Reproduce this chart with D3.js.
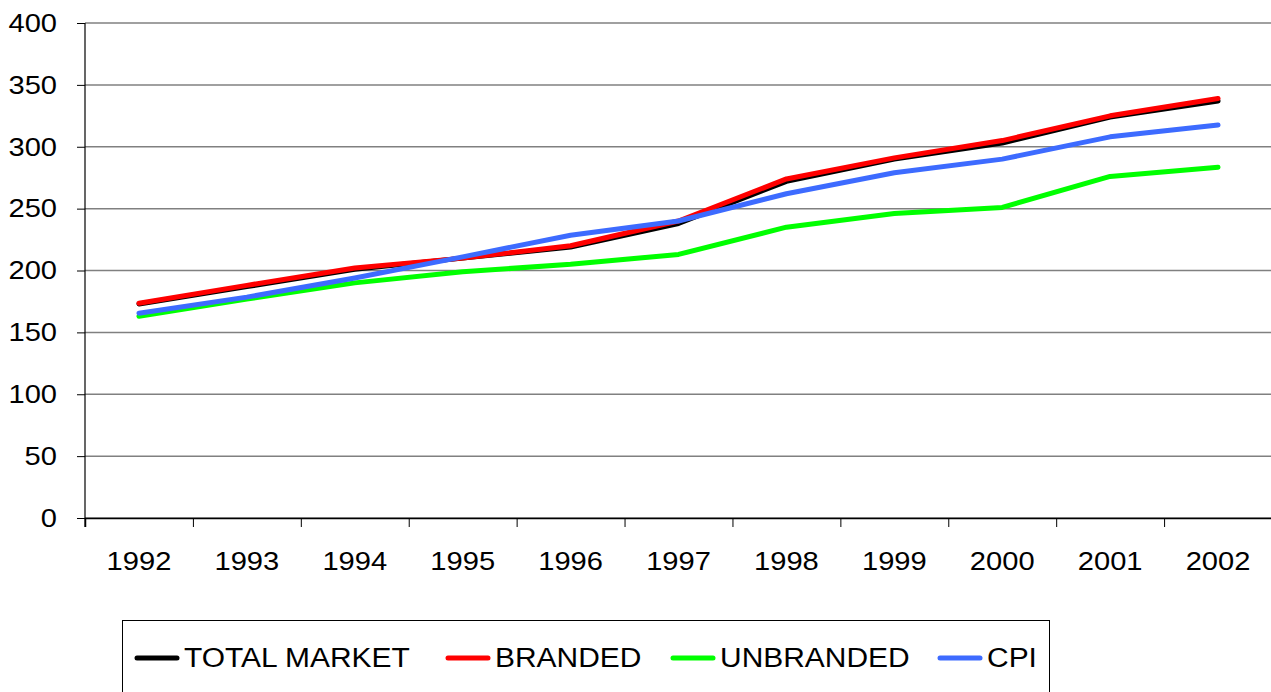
<!DOCTYPE html>
<html>
<head>
<meta charset="utf-8">
<script src="https://cdn.jsdelivr.net/npm/d3@7"></script>
<style>
  body { margin: 0; background: #fff; }
  text { font-family: "Liberation Sans", Arial, sans-serif; fill: #000; }
</style>
</head>
<body>
<div id="chart"></div>
<script>
var years = ["1992", "1993", "1994", "1995", "1996", "1997", "1998", "1999", "2000", "2001", "2002"];
var totalMarket = [173, 187, 201, 210, 219, 238, 272, 290, 303, 324, 337];
var branded = [173.5, 188, 202, 210, 220, 240, 274, 291, 305, 325, 339];
var unbranded = [163, 177, 190, 199, 205, 213, 235, 246, 251, 276, 283.5];
var cpi = [165.5, 178.5, 194, 211, 228.5, 240, 262, 279, 290, 308, 317.5];
var yTicks = [0, 50, 100, 150, 200, 250, 300, 350, 400];

var series = [
  {name: "TOTAL MARKET", values: totalMarket, color: "#000000"},
  {name: "BRANDED", values: branded, color: "#ff0000"},
  {name: "UNBRANDED", values: unbranded, color: "#00ff00"},
  {name: "CPI", values: cpi, color: "#3d6bff"}
];

var margin = {top: 23, right: 0, bottom: 174, left: 85},
    width = 1272 - margin.left,
    height = 518 - margin.top;

var stretch = 1.12; // the reference text is a bit wider than Arial

var svg = d3.select("#chart")
  .append("svg")
    .attr("width", 1271)
    .attr("height", 692)
  .append("g")
    .attr("transform", "translate(" + margin.left + "," + margin.top + ")");

var x = d3.scaleBand()
  .domain(years)
  .range([0, width])
  .padding(0);

var y = d3.scaleLinear()
  .domain([0, 400])
  .range([height, 0]);

// gridlines
svg.append("g")
  .selectAll("line")
  .data(yTicks)
  .enter()
  .append("line")
    .attr("x1", 0)
    .attr("x2", width)
    .attr("y1", function(d) { return y(d); })
    .attr("y2", function(d) { return y(d); })
    .attr("stroke", "#808080")
    .attr("stroke-width", 1.5);

// y axis
var yAxis = svg.append("g")
  .call(d3.axisLeft(y).tickValues(yTicks).tickSize(8).tickPadding(7));
yAxis.select(".domain").remove();
yAxis.selectAll("line").attr("stroke", "#000");
yAxis.selectAll("text")
  .style("font-size", "26px")
  .attr("x", -28 / stretch)
  .attr("transform", "scale(" + stretch + ",1)");

svg.append("line")
  .attr("x1", 0).attr("x2", 0)
  .attr("y1", 0).attr("y2", height + 9)
  .attr("stroke", "#000").attr("stroke-width", 1.2);

// x axis: ticks at band boundaries
var boundaries = d3.range(years.length + 1);
var xb = d3.scaleLinear().domain([0, years.length]).range([0, width]);
var xTickAxis = svg.append("g")
  .attr("transform", "translate(0," + height + ")")
  .call(d3.axisBottom(xb).tickValues(boundaries).tickSize(9).tickFormat(""));
xTickAxis.select(".domain").attr("stroke", "#000").attr("stroke-width", 1.5);
xTickAxis.selectAll("line").attr("stroke", "#000");

var xAxis = svg.append("g")
  .attr("transform", "translate(0," + height + ")")
  .call(d3.axisBottom(x).tickSize(0).tickPadding(34));
xAxis.select(".domain").remove();
xAxis.selectAll("text")
  .style("font-size", "26px")
  .attr("transform", "scale(" + stretch + ",1)");

// lines
var line = d3.line()
  .x(function(d, i) { return x(years[i]) + x.bandwidth() / 2; })
  .y(function(d) { return y(d); });

svg.selectAll(".series")
  .data(series)
  .enter()
  .append("path")
    .attr("class", "series")
    .attr("fill", "none")
    .attr("stroke", function(d) { return d.color; })
    .attr("stroke-width", 5)
    .attr("stroke-linejoin", "round")
    .attr("stroke-linecap", "round")
    .attr("d", function(d) { return line(d.values); });

// legend
var legendX = [137, 448, 673, 940];
var legend = d3.select("svg").append("g");
legend.append("rect")
  .attr("x", 122.5).attr("y", 620.5)
  .attr("width", 927).attr("height", 80)
  .attr("fill", "none").attr("stroke", "#000").attr("stroke-width", 1);

var items = legend.selectAll(".item")
  .data(series)
  .enter()
  .append("g")
    .attr("transform", function(d, i) { return "translate(" + legendX[i] + ",658)"; });
items.append("line")
  .attr("x1", 0).attr("x2", 40)
  .attr("stroke", function(d) { return d.color; })
  .attr("stroke-width", 5)
  .attr("stroke-linecap", "round");
items.append("text")
  .attr("transform", "translate(47,9) scale(1.07,1)")
  .style("font-size", "28px")
  .text(function(d) { return d.name; });
</script>
</body>
</html>
